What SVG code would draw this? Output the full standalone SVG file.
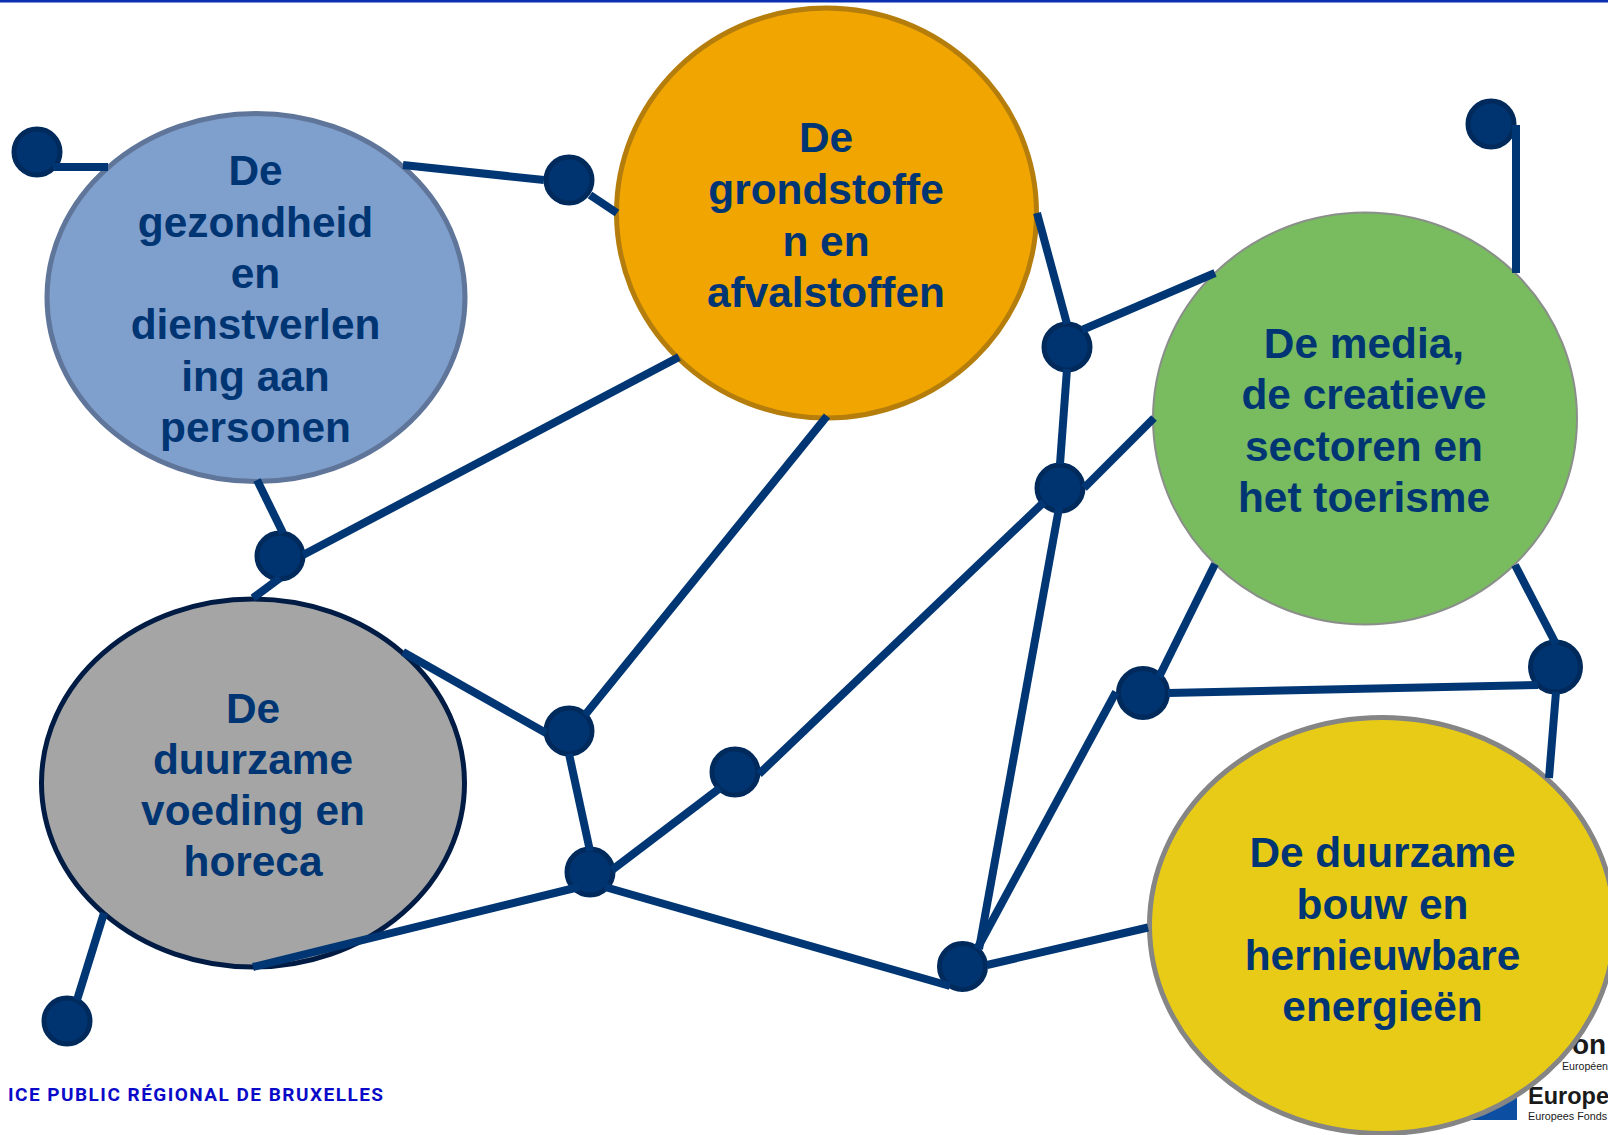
<svg xmlns="http://www.w3.org/2000/svg" width="1608" height="1135" viewBox="0 0 1608 1135">
<style>
.l{font-family:"Liberation Sans",Arial,sans-serif;font-weight:700;font-size:42.4px;fill:#003574;text-anchor:middle}
.d{fill:#003470;stroke:#002a5c;stroke-width:5}
#connectors line{stroke:#003673;stroke-width:8;fill:none}
.e{stroke-width:5}
.f{font-family:"Liberation Sans",Arial,sans-serif;fill:#1a1a1a}
</style>
<rect width="1608" height="1135" fill="#ffffff"/>
<rect x="0" y="0" width="1608" height="2.5" fill="#0a2fb0"/>
<g id="footer">
<text x="8" y="1101" font-family="Roboto,Arial,sans-serif" font-weight="700" font-size="19" textLength="375" fill="#0a0ac8">ICE PUBLIC RÉGIONAL DE BRUXELLES</text>
<rect x="1470" y="1090" width="47" height="30" fill="#0b4ea2"/>
<text class="f" x="1572" y="1054" font-size="28" font-weight="700">on</text>
<text class="f" x="1562" y="1070" font-size="10.6" fill="#444444">Européen</text>
<text class="f" x="1528" y="1104" font-size="23.5" font-weight="700">Europe</text>
<text class="f" x="1528" y="1120" font-size="10.8">Europees Fonds</text>
</g>
<g id="node-gezondheid"><ellipse class="e" cx="256" cy="297.5" rx="209" ry="184" fill="#7f9fcd" stroke="#5f7599"/>
<text class="l"><tspan x="255.5" y="185">De</tspan><tspan x="255.5" y="237">gezondheid</tspan><tspan x="255.5" y="288">en</tspan><tspan x="255.5" y="339">dienstverlen</tspan><tspan x="255.5" y="391">ing aan</tspan><tspan x="255.5" y="442">personen</tspan></text></g>
<g id="node-grondstoffen"><ellipse class="e" cx="826.5" cy="213" rx="210" ry="205" fill="#f0a500" stroke="#b57e0c"/>
<text class="l"><tspan x="826" y="152">De</tspan><tspan x="826" y="204">grondstoffe</tspan><tspan x="826" y="256">n en</tspan><tspan x="826" y="307">afvalstoffen</tspan></text></g>
<g id="node-media"><ellipse cx="1365" cy="418.5" rx="212" ry="206" fill="#78bc5f" stroke="#8a8f8a" stroke-width="2"/>
<text class="l"><tspan x="1364" y="358">De media,</tspan><tspan x="1364" y="409">de creatieve</tspan><tspan x="1364" y="461">sectoren en</tspan><tspan x="1364" y="512">het toerisme</tspan></text></g>
<g id="node-voeding"><ellipse class="e" cx="253" cy="783" rx="211.5" ry="184" fill="#a5a5a5" stroke="#001c44"/>
<text class="l"><tspan x="253" y="723">De</tspan><tspan x="253" y="774">duurzame</tspan><tspan x="253" y="825">voeding en</tspan><tspan x="253" y="876">horeca</tspan></text></g>
<g id="node-bouw"><ellipse class="e" cx="1382" cy="925.5" rx="232.5" ry="208" fill="#e8cb17" stroke="#858585"/>
<text class="l"><tspan x="1382.5" y="867">De duurzame</tspan><tspan x="1382.5" y="919">bouw en</tspan><tspan x="1382.5" y="970">hernieuwbare</tspan><tspan x="1382.5" y="1021">energieën</tspan></text></g>
<g id="dots">
<circle class="d" cx="37" cy="152" r="23"/><circle class="d" cx="569" cy="180" r="23"/><circle class="d" cx="280" cy="556" r="23"/><circle class="d" cx="569" cy="731" r="23"/><circle class="d" cx="590" cy="872" r="23"/><circle class="d" cx="735" cy="772" r="23"/><circle class="d" cx="1067" cy="347" r="23"/><circle class="d" cx="1060" cy="488" r="23"/><circle class="d" cx="1491" cy="124" r="23"/><circle class="d" cx="1555.5" cy="667" r="25"/><circle class="d" cx="1143" cy="693" r="24.5"/><circle class="d" cx="962.5" cy="966.5" r="23"/><circle class="d" cx="67" cy="1021" r="23"/>
</g>
<g id="connectors">
<line x1="53" y1="167" x2="108" y2="167"/>
<line x1="403" y1="165" x2="544" y2="180"/>
<line x1="590" y1="195" x2="617" y2="213"/>
<line x1="257" y1="480" x2="283" y2="533"/>
<line x1="303" y1="555" x2="679" y2="357"/>
<line x1="280" y1="578" x2="253" y2="598"/>
<line x1="403" y1="652" x2="546" y2="733"/>
<line x1="585" y1="715" x2="827" y2="416"/>
<line x1="569" y1="754" x2="590" y2="851"/>
<line x1="612" y1="870" x2="720" y2="788"/>
<line x1="759" y1="774" x2="1044" y2="502"/>
<line x1="1084" y1="488" x2="1154" y2="418"/>
<line x1="1059" y1="508" x2="979" y2="949"/>
<line x1="1060" y1="464" x2="1067" y2="369"/>
<line x1="1067" y1="324" x2="1037" y2="213"/>
<line x1="1082" y1="330" x2="1215" y2="273"/>
<line x1="1516" y1="125" x2="1516" y2="273"/>
<line x1="1215" y1="564" x2="1159" y2="677"/>
<line x1="1515" y1="565" x2="1556" y2="644"/>
<line x1="1168" y1="693" x2="1538" y2="685"/>
<line x1="1556" y1="692" x2="1549" y2="778"/>
<line x1="1116" y1="692" x2="977" y2="949"/>
<line x1="1148" y1="927.5" x2="987" y2="965"/>
<line x1="605" y1="887" x2="950" y2="986"/>
<line x1="579" y1="887" x2="253" y2="967"/>
<line x1="104" y1="913" x2="77" y2="1000"/>
</g>
</svg>
